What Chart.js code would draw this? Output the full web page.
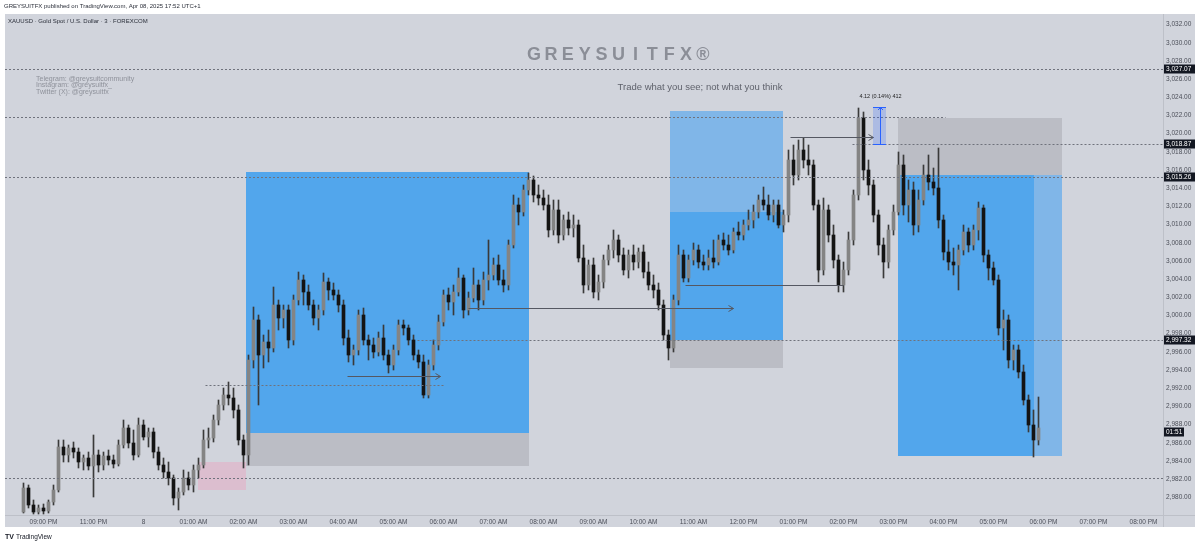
<!DOCTYPE html>
<html>
<head>
<meta charset="utf-8">
<script src="https://cdn.jsdelivr.net/npm/chart.js@4.4.0/dist/chart.umd.min.js"></script>
<style>
  html, body { margin: 0; padding: 0; background: #fff; }
  #wrap { width: 1200px; height: 545px; }
</style>
</head>
<body>
<div id="wrap"><canvas id="chart" width="1200" height="545"></canvas></div>
<script>
// XAUUSD 3m, drawn as 6-minute candles; bar 0 = 09:00 PM
const firstBar = -4;

const opens = [
  2978.38, 2981.02, 2979.15, 2978.38, 2978.82, 2978.49, 2979.48, 2980.80, 2985.53, 2984.65,
  2985.42, 2984.98, 2983.88, 2984.32, 2983.44, 2984.65, 2983.55, 2984.54, 2984.10, 2983.66,
  2985.75, 2987.62, 2985.97, 2984.65, 2987.95, 2986.63, 2987.18, 2984.98, 2983.55, 2982.78,
  2982.12, 2979.92, 2980.58, 2982.12, 2981.35, 2983.00, 2983.55, 2986.30, 2986.52, 2988.50,
  2990.15, 2991.25, 2990.92, 2989.60, 2986.30, 2984.65, 2995.10, 2999.50, 2995.65, 2997.08,
  2996.42, 3001.15, 2999.72, 3000.60, 2997.30, 3001.70, 3003.90, 3002.58, 3001.15, 2999.72,
  3000.60, 3003.68, 3002.80, 3002.25, 3001.15, 2997.52, 2995.65, 2996.20, 3000.05, 2997.30,
  2996.75, 2995.98, 2997.52, 2995.65, 2994.55, 2996.20, 2998.95, 2998.62, 2997.30, 2995.65,
  2994.88, 2991.25, 2994.55, 2996.75, 2999.28, 3002.25, 3001.48, 3002.58, 3004.12, 3000.60,
  3001.92, 3003.35, 3001.70, 3003.90, 3004.45, 3005.55, 3003.90, 3003.35, 3007.75, 3012.15,
  3011.38, 3013.80, 3014.90, 3013.25, 3012.92, 3012.15, 3009.40, 3011.60, 3008.85, 3010.50,
  3009.62, 3009.95, 3006.32, 3003.35, 3005.55, 3002.58, 3003.68, 3006.10, 3007.20, 3008.30,
  3006.65, 3005.00, 3006.65, 3005.88, 3006.98, 3004.78, 3003.35, 3002.80, 3001.15, 2997.85,
  2996.42, 3001.70, 3006.65, 3004.12, 3006.10, 3007.20, 3005.88, 3005.55, 3006.32, 3005.88,
  3008.30, 3007.75, 3007.20, 3009.18, 3008.85, 3009.95, 3010.50, 3011.38, 3012.70, 3012.15,
  3011.05, 3012.15, 3009.95, 3011.05, 3017.10, 3015.45, 3018.20, 3017.10, 3016.55, 3012.15,
  3005.00, 3011.60, 3008.85, 3006.10, 3003.35, 3005.00, 3008.30, 3013.25, 3021.72, 3016.00,
  3014.35, 3011.05, 3007.75, 3005.88, 3009.40, 3011.38, 3016.55, 3012.15, 3013.80, 3009.95,
  3012.70, 3015.45, 3014.68, 3014.02, 3010.50, 3006.98, 3005.88, 3005.55, 3007.20, 3009.18,
  3007.75, 3009.40, 3011.82, 3006.65, 3005.22, 3003.90, 2998.62, 2999.50, 2995.10, 2996.20,
  2993.78, 2990.70, 2987.95, 2986.30
];
const highs = [
  2981.57, 2981.35, 2979.70, 2979.15, 2979.26, 2979.70, 2981.35, 2986.30, 2986.30, 2985.75,
  2986.08, 2985.42, 2984.65, 2984.98, 2986.85, 2985.20, 2984.98, 2985.20, 2984.65, 2986.30,
  2988.50, 2987.95, 2987.40, 2988.72, 2988.50, 2987.62, 2987.62, 2985.53, 2984.32, 2983.88,
  2982.45, 2981.02, 2983.00, 2982.78, 2983.55, 2984.32, 2987.40, 2987.62, 2989.05, 2990.70,
  2992.02, 2992.68, 2992.02, 2990.15, 2986.85, 2995.65, 3000.93, 3000.05, 2997.85, 2998.40,
  3003.13, 3001.70, 3001.15, 3001.15, 3002.25, 3004.78, 3004.45, 3003.35, 3001.70, 3001.15,
  3004.67, 3004.12, 3003.57, 3002.80, 3001.70, 2998.40, 2996.75, 3000.60, 3000.82, 2997.85,
  2997.52, 2998.18, 2998.95, 2996.20, 2996.75, 2999.50, 2999.50, 2998.95, 2997.85, 2996.20,
  2995.65, 2995.10, 2997.30, 3000.05, 3002.80, 3003.02, 3003.35, 3005.22, 3004.45, 3002.58,
  3005.22, 3003.90, 3004.78, 3008.30, 3006.32, 3006.65, 3005.00, 3008.30, 3013.25, 3012.92,
  3014.35, 3015.67, 3015.34, 3014.35, 3013.80, 3013.25, 3012.70, 3012.70, 3011.05, 3011.38,
  3011.05, 3010.50, 3007.75, 3006.10, 3006.32, 3004.45, 3006.65, 3007.75, 3009.40, 3008.85,
  3007.42, 3007.20, 3007.75, 3007.42, 3007.75, 3005.88, 3004.45, 3003.57, 3001.70, 2998.40,
  3002.25, 3007.75, 3007.20, 3006.65, 3007.97, 3007.75, 3006.65, 3007.20, 3008.30, 3008.85,
  3009.07, 3008.85, 3009.62, 3010.28, 3010.50, 3011.60, 3012.15, 3013.25, 3014.13, 3013.25,
  3012.70, 3012.70, 3011.60, 3018.20, 3018.75, 3019.30, 3019.52, 3018.75, 3017.10, 3012.70,
  3012.92, 3012.15, 3009.95, 3006.65, 3005.88, 3009.18, 3013.80, 3022.82, 3022.38, 3017.10,
  3014.90, 3011.60, 3008.52, 3009.95, 3012.15, 3017.98, 3017.65, 3014.90, 3014.68, 3013.80,
  3016.55, 3017.65, 3016.22, 3018.42, 3011.05, 3008.30, 3007.42, 3007.75, 3009.95, 3009.62,
  3009.95, 3012.48, 3012.15, 3007.20, 3005.88, 3004.45, 3000.60, 3000.05, 2996.75, 2996.75,
  2994.55, 2991.25, 2989.60, 2991.03
];
const lows = [
  2978.27, 2978.82, 2978.16, 2978.16, 2978.16, 2978.27, 2979.15, 2980.58, 2983.88, 2983.88,
  2984.32, 2983.22, 2983.00, 2983.00, 2980.03, 2982.78, 2983.00, 2983.55, 2983.22, 2983.44,
  2985.42, 2985.42, 2984.10, 2984.43, 2986.30, 2985.53, 2984.32, 2983.00, 2982.12, 2981.35,
  2979.15, 2978.60, 2980.25, 2980.80, 2980.58, 2982.12, 2983.22, 2985.42, 2986.08, 2987.95,
  2989.60, 2990.15, 2988.72, 2985.75, 2983.22, 2983.55, 2994.22, 2990.15, 2994.22, 2994.88,
  2995.98, 2998.40, 2998.62, 2996.42, 2996.75, 3001.15, 3001.15, 3000.60, 2998.95, 2998.40,
  3000.05, 3001.70, 3001.70, 3000.38, 2996.75, 2994.88, 2994.55, 2995.65, 2996.75, 2995.10,
  2995.32, 2995.54, 2995.10, 2993.67, 2994.00, 2995.65, 2997.85, 2996.75, 2995.10, 2994.22,
  2990.92, 2990.92, 2994.00, 2996.20, 2998.84, 3000.60, 3000.05, 3002.14, 2999.72, 3000.05,
  3001.48, 3000.60, 3001.15, 3002.80, 3003.90, 3003.35, 3002.58, 3002.80, 3007.42, 3009.95,
  3010.94, 3013.25, 3012.48, 3012.15, 3011.60, 3008.63, 3008.85, 3007.97, 3008.30, 3008.85,
  3008.63, 3005.88, 3002.47, 3002.80, 3001.92, 3001.70, 3003.02, 3005.55, 3006.32, 3005.88,
  3004.45, 3004.12, 3005.00, 3005.22, 3004.12, 3002.80, 3001.92, 3000.60, 2997.30, 2995.10,
  2995.98, 3001.15, 3003.68, 3003.68, 3005.55, 3005.22, 3005.00, 3005.00, 3005.22, 3005.55,
  3007.20, 3006.65, 3006.87, 3008.30, 3008.30, 3009.40, 3009.62, 3010.72, 3011.60, 3010.50,
  3010.28, 3009.62, 3009.18, 3010.28, 3014.35, 3014.90, 3016.22, 3015.45, 3011.60, 3003.68,
  3004.45, 3008.08, 3005.22, 3002.58, 3002.58, 3004.45, 3007.75, 3012.70, 3014.90, 3013.25,
  3010.28, 3006.65, 3004.12, 3005.22, 3008.85, 3011.05, 3011.05, 3010.28, 3008.85, 3009.18,
  3012.15, 3013.80, 3013.25, 3009.62, 3006.10, 3005.00, 3004.45, 3002.80, 3006.65, 3006.98,
  3007.20, 3008.30, 3005.88, 3003.90, 3003.35, 2997.85, 2996.20, 2994.22, 2994.00, 2993.12,
  2990.15, 2987.18, 2984.43, 2985.75
];
const closes = [
  2981.02, 2979.15, 2978.38, 2978.82, 2978.49, 2979.48, 2980.80, 2985.53, 2984.65, 2985.42,
  2984.98, 2983.88, 2984.32, 2983.44, 2984.65, 2983.55, 2984.54, 2984.10, 2983.66, 2985.75,
  2987.62, 2985.97, 2984.65, 2987.95, 2986.63, 2987.18, 2984.98, 2983.55, 2982.78, 2982.12,
  2979.92, 2980.58, 2982.12, 2981.35, 2983.00, 2983.55, 2986.30, 2986.52, 2988.50, 2990.15,
  2991.25, 2990.92, 2989.60, 2986.30, 2984.65, 2995.10, 2999.50, 2995.65, 2997.08, 2996.42,
  3001.15, 2999.72, 3000.60, 2997.30, 3001.70, 3003.90, 3002.58, 3001.15, 2999.72, 3000.60,
  3003.68, 3002.80, 3002.25, 3001.15, 2997.52, 2995.65, 2996.20, 3000.05, 2997.30, 2996.75,
  2995.98, 2997.52, 2995.65, 2994.55, 2996.20, 2998.95, 2998.62, 2997.30, 2995.65, 2994.88,
  2991.25, 2994.55, 2996.75, 2999.28, 3002.25, 3001.48, 3002.58, 3004.12, 3000.60, 3001.92,
  3003.35, 3001.70, 3003.90, 3004.45, 3005.55, 3003.90, 3003.35, 3007.75, 3012.15, 3011.38,
  3013.80, 3014.90, 3013.25, 3012.92, 3012.15, 3009.40, 3011.60, 3008.85, 3010.50, 3009.62,
  3009.95, 3006.32, 3003.35, 3005.55, 3002.58, 3003.68, 3006.10, 3007.20, 3008.30, 3006.65,
  3005.00, 3006.65, 3005.88, 3006.98, 3004.78, 3003.35, 3002.80, 3001.15, 2997.85, 2996.42,
  3001.70, 3006.65, 3004.12, 3006.10, 3007.20, 3005.88, 3005.55, 3006.32, 3005.88, 3008.30,
  3007.75, 3007.20, 3009.18, 3008.85, 3009.95, 3010.50, 3011.38, 3012.70, 3012.15, 3011.05,
  3012.15, 3009.95, 3011.05, 3017.10, 3015.45, 3018.20, 3017.10, 3016.55, 3012.15, 3005.00,
  3011.60, 3008.85, 3006.10, 3003.35, 3005.00, 3008.30, 3013.25, 3021.72, 3016.00, 3014.35,
  3011.05, 3007.75, 3005.88, 3009.40, 3011.38, 3016.55, 3012.15, 3013.80, 3009.95, 3012.70,
  3015.45, 3014.68, 3014.02, 3010.50, 3006.98, 3005.88, 3005.55, 3007.20, 3009.18, 3007.75,
  3009.40, 3011.82, 3006.65, 3005.22, 3003.90, 2998.62, 2999.50, 2995.10, 2996.20, 2993.78,
  2990.70, 2987.95, 2986.30, 2987.62
];

const timeLabels = ["09:00 PM", "11:00 PM", "8", "01:00 AM", "02:00 AM", "03:00 AM", "04:00 AM",
  "05:00 AM", "06:00 AM", "07:00 AM", "08:00 AM", "09:00 AM", "10:00 AM", "11:00 AM", "12:00 PM",
  "01:00 PM", "02:00 PM", "03:00 PM", "04:00 PM", "05:00 PM", "06:00 PM", "07:00 PM", "08:00 PM"];
const priceTicks = [2980, 2982, 2984, 2986, 2988, 2990, 2992, 2994, 2996, 2998, 3000, 3002, 3004,
  3006, 3008, 3010, 3012, 3014, 3016, 3018, 3020, 3022, 3024, 3026, 3028, 3030, 3032];

// drawings: [bar from, bar to, price top, price bottom, kind]
const zones = [
  [30.8, 40.4, 2983.88, 2980.80, 'pink'],
  [40.4, 97.0, 3015.78, 2987.07, 'target'],
  [40.4, 97.0, 2987.07, 2983.44, 'stop'],
  [125.2, 147.8, 3022.49, 3011.38, 'soft'],
  [125.2, 147.8, 3011.38, 2997.30, 'target'],
  [125.2, 147.8, 2997.30, 2994.22, 'stop'],
  [170.8, 203.6, 3021.72, 3015.45, 'stop'],
  [170.8, 198.0, 3015.45, 2984.54, 'target'],
  [198.0, 203.6, 3015.45, 2984.54, 'soft']
];
// dotted horizontals: [price, bar from, bar to] (null = chart edge)
const dottedLines = [
  [3027.07, null, null], [3021.83, null, 180.4], [3018.87, 161.8, null], [3015.26, null, null],
  [2997.32, 74.8, null], [2992.35, 32.4, 80.4], [2982.12, null, null]
];
// arrows: [price, bar from, bar to, has head]
const arrowLines = [
  [2993.34, 60.8, 79.4, true], [3000.83, 85.0, 138.0, true],
  [3003.35, 128.4, 160.0, false], [3019.63, 149.4, 166.0, true]
];
const measure = { from: 165.8, to: 168.4, top: 3022.90, bottom: 3018.78, text: '4.12 (0.14%) 412' };
const priceTags = [3027.07, 3018.87, 3015.26, 2997.32];
const countdown = { price: 2987.2, text: '01:51' };

const FONT = '"Liberation Sans", Arial, sans-serif';
const panel = '#d1d4dc';
const zoneColors = { target: '#52a6ec', soft: '#80b6e8', stop: '#bbbdc5', pink: '#dcbecf' };
const upColor = '#848484', downColor = '#141414', wickColor = '#3a3a3a';

const bars = closes.map((_, i) => firstBar + i);

const overlay = {
  id: 'overlay',
  beforeDraw(chart) {
    const c = chart.ctx;
    c.save();
    c.fillStyle = '#fff';
    c.fillRect(0, 0, chart.width, chart.height);
    c.fillStyle = panel;
    c.fillRect(5, 14, 1190, 513);
    c.restore();
  },
  beforeDatasetsDraw(chart) {
    const c = chart.ctx, xs = chart.scales.x, ys = chart.scales.y, a = chart.chartArea;
    c.save();
    c.beginPath(); c.rect(a.left, a.top, a.right - a.left, a.bottom - a.top); c.clip();
    zones.forEach(z => {
      const x0 = Math.round(xs.getPixelForValue(z[0])), x1 = Math.round(xs.getPixelForValue(z[1]));
      const y0 = Math.round(ys.getPixelForValue(z[2])), y1 = Math.round(ys.getPixelForValue(z[3]));
      c.fillStyle = zoneColors[z[4]];
      c.fillRect(x0, y0, x1 - x0, y1 - y0);
    });
    c.restore();
  },
  afterDatasetsDraw(chart) {
    const c = chart.ctx, xs = chart.scales.x, ys = chart.scales.y, a = chart.chartArea;
    c.save();
    c.beginPath(); c.rect(a.left, a.top, a.right - a.left, a.bottom - a.top); c.clip();
    c.lineWidth = 1;
    c.strokeStyle = '#6f727c';
    c.setLineDash([2, 2]);
    dottedLines.forEach(l => {
      const y = Math.round(ys.getPixelForValue(l[0])) + 0.5;
      const x0 = l[1] === null ? a.left : xs.getPixelForValue(l[1]);
      const x1 = l[2] === null ? a.right : xs.getPixelForValue(l[2]);
      c.beginPath(); c.moveTo(x0, y); c.lineTo(x1, y); c.stroke();
    });
    c.setLineDash([]);
    c.strokeStyle = '#555862';
    arrowLines.forEach(l => {
      const y = Math.round(ys.getPixelForValue(l[0])) + 0.5;
      const x0 = xs.getPixelForValue(l[1]), x1 = xs.getPixelForValue(l[2]);
      c.beginPath(); c.moveTo(x0, y); c.lineTo(x1, y); c.stroke();
      if (l[3]) {
        c.beginPath(); c.moveTo(x1 - 5, y - 3); c.lineTo(x1, y); c.lineTo(x1 - 5, y + 3); c.stroke();
      }
    });
    // price range measurement
    const mx0 = Math.round(xs.getPixelForValue(measure.from)), mx1 = Math.round(xs.getPixelForValue(measure.to));
    const my0 = Math.round(ys.getPixelForValue(measure.top)), my1 = Math.round(ys.getPixelForValue(measure.bottom));
    c.fillStyle = 'rgba(41, 98, 255, 0.22)';
    c.fillRect(mx0, my0, mx1 - mx0, my1 - my0);
    c.strokeStyle = '#2962ff';
    const mc = Math.round((mx0 + mx1) / 2) + 0.5;
    c.beginPath();
    c.moveTo(mx0, my0 + 0.5); c.lineTo(mx1, my0 + 0.5);
    c.moveTo(mx0, my1 - 0.5); c.lineTo(mx1, my1 - 0.5);
    c.moveTo(mc, my0); c.lineTo(mc, my1);
    c.moveTo(mc - 2.5, my0 + 3); c.lineTo(mc, my0 + 0.5); c.lineTo(mc + 2.5, my0 + 3);
    c.stroke();
    c.restore();
    c.save();
    c.fillStyle = '#1e1e1e';
    c.font = '5.5px ' + FONT;
    c.textAlign = 'center'; c.textBaseline = 'middle';
    c.fillText(measure.text, mc, my0 - 11);
    c.restore();
  },
  afterDraw(chart) {
    const c = chart.ctx, ys = chart.scales.y;
    c.save();
    // pane separators
    c.strokeStyle = '#bdc0c8'; c.lineWidth = 1;
    c.beginPath();
    c.moveTo(1163.5, 14); c.lineTo(1163.5, 527);
    c.moveTo(5, 515.5); c.lineTo(1195, 515.5);
    c.stroke();

    c.textBaseline = 'middle';
    c.fillStyle = '#2a2e39';
    c.font = '6px ' + FONT;
    c.fillText('GREYSUITFX published on TradingView.com, Apr 08, 2025 17:52 UTC+1', 4, 6);
    c.fillText('XAUUSD \u00b7 Gold Spot / U.S. Dollar \u00b7 3 \u00b7 FOREXCOM', 8, 21);

    c.fillStyle = '#8f929b';
    c.font = '7px ' + FONT;
    c.fillText('Telegram: @greysuitcommunity', 36, 79);
    c.fillText('Instagram: @greysuitfx_', 36, 85.5);
    c.fillText('Twitter (X): @greysuitfx', 36, 92);

    c.fillStyle = '#8b8e97';
    c.font = 'bold 18px ' + FONT;
    c.textAlign = 'center';
    'GREYSUITFX\u00ae'.split('').forEach((ch, k) => c.fillText(ch, 534 + k * 16.9, 55));

    c.fillStyle = '#5f626c';
    c.font = '9.5px ' + FONT;
    c.fillText('Trade what you see; not what you think', 700, 87);

    // axis tags
    c.font = '6.5px ' + FONT;
    c.textAlign = 'left';
    priceTags.forEach(p => {
      const y = Math.round(ys.getPixelForValue(p));
      c.fillStyle = '#131722';
      c.fillRect(1164, y - 4.5, 31, 9);
      c.fillStyle = '#ffffff';
      c.fillText(p.toLocaleString('en-US', { minimumFractionDigits: 2 }), 1166, y + 0.5);
    });
    const cy = Math.round(ys.getPixelForValue(countdown.price));
    c.fillStyle = '#131722';
    c.fillRect(1164, cy - 4.5, 20, 9);
    c.fillStyle = '#ffffff';
    c.fillText(countdown.text, 1166, cy + 0.5);

    // footer logo
    c.fillStyle = '#131722';
    c.font = 'bold 7px ' + FONT;
    c.fillText('TV', 5, 537);
    c.font = '6.5px ' + FONT;
    c.fillText('TradingView', 16, 537);
    c.restore();
  }
};

new Chart(document.getElementById('chart').getContext('2d'), {
  type: 'bar',
  data: {
    datasets: [
      {
        label: 'body',
        data: bars.map((t, i) => ({ x: t, y: [opens[i], closes[i]] })),
        backgroundColor: bars.map((_, i) => closes[i] >= opens[i] ? upColor : downColor),
        barThickness: 3,
        minBarLength: 1,
        grouped: false,
        order: 1
      },
      {
        label: 'wick',
        data: bars.map((t, i) => ({ x: t, y: [lows[i], highs[i]] })),
        backgroundColor: wickColor,
        barThickness: 1,
        grouped: false,
        order: 2
      }
    ]
  },
  options: {
    responsive: false,
    animation: false,
    layout: { padding: { left: 5, right: 5, top: 14, bottom: 18 } },
    plugins: { legend: { display: false }, tooltip: { enabled: false } },
    scales: {
      x: {
        type: 'linear', offset: false, min: -7.7, max: 223.9,
        grid: { display: false, drawTicks: false }, border: { display: false },
        afterBuildTicks: s => { s.ticks = timeLabels.map((_, k) => ({ value: k * 10 })); },
        afterFit: s => { s.height = 12; },
        ticks: {
          autoSkip: false, maxRotation: 0, padding: 3, color: '#4c4f59',
          font: { family: FONT, size: 6.5 },
          callback: v => timeLabels[Math.round(v / 10)]
        }
      },
      y: {
        position: 'right', min: 2978.05, max: 3033.16,
        grid: { display: false, drawTicks: false }, border: { display: false },
        afterBuildTicks: s => { s.ticks = priceTicks.map(v => ({ value: v })); },
        afterFit: s => { s.width = 32; },
        ticks: {
          autoSkip: false, padding: 3, color: '#4c4f59',
          font: { family: FONT, size: 6.5 },
          callback: v => v.toLocaleString('en-US', { minimumFractionDigits: 2 })
        }
      }
    }
  },
  plugins: [overlay]
});
</script>
</body>
</html>
